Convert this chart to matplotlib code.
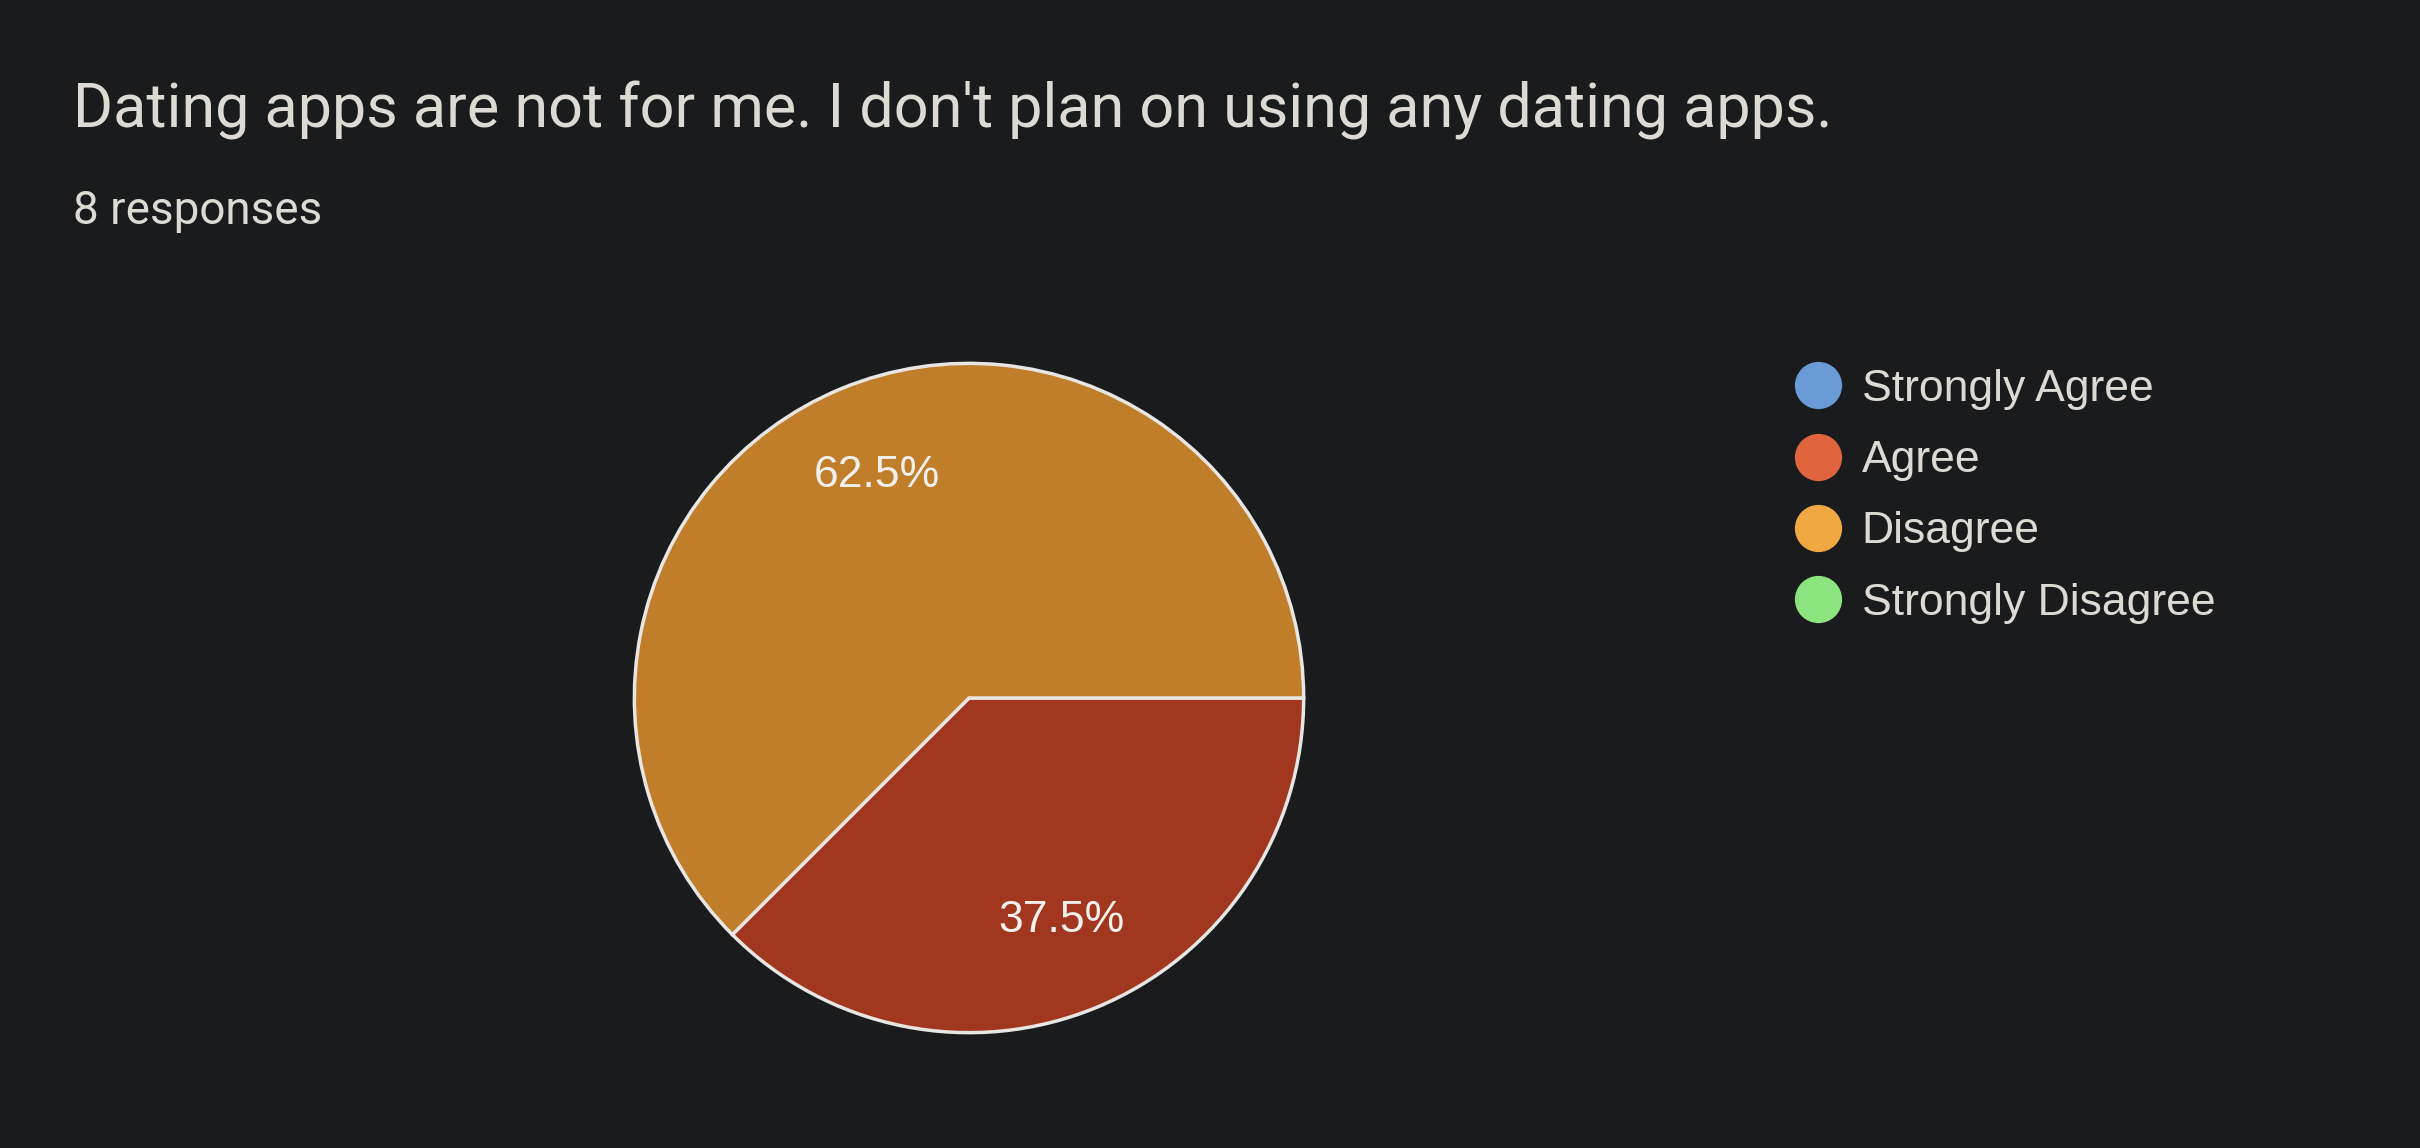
import numpy as np
import matplotlib
matplotlib.use("Agg")
import matplotlib.pyplot as plt
from matplotlib.lines import Line2D

# survey answers
categories = ["Strongly Agree", "Agree", "Disagree", "Strongly Disagree"]
counts = [0, 3, 5, 0]
legend_colors = ["#6a9bd6", "#e0653f", "#f0a843", "#8be47e"]
slice_colors = ["#4a6c96", "#a2371f", "#c07d2a", "#5f9e57"]

title = "Dating apps are not for me. I don't plan on using any dating apps."
subtitle = "8 responses"

bg = "#1a1b1d"
txt = "#dddad4"

fig = plt.figure(figsize=(24.2, 11.48), dpi=100, facecolor=bg)

fig.text(73 / 2420, 1 - 127 / 1148, title, fontsize=44, color=txt,
         family="Roboto", va="baseline", ha="left")
fig.text(73 / 2420, 1 - 224 / 1148, subtitle, fontsize=33, color=txt,
         family="Roboto", va="baseline", ha="left")

# pie: only non-zero slices are drawn
cx, cy, r = 969, 698, 338
ax = fig.add_axes([(cx - r) / 2420, (1148 - cy - r) / 1148, 2 * r / 2420, 2 * r / 1148])
ax.set_facecolor(bg)
vals = [v for v in counts if v > 0]
cols = [c for v, c in zip(counts, slice_colors) if v > 0]
wedges, texts, autotexts = ax.pie(vals, colors=cols, startangle=0, counterclock=False,
                                  autopct="%1.1f%%", pctdistance=0.72,
                                  wedgeprops=dict(edgecolor="#e8e6e3", linewidth=2.5),
                                  textprops=dict(color="#f2f0ec", fontsize=32,
                                                 family="Liberation Sans"))
ax.set_xlim(-1.01, 1.01)
ax.set_ylim(-1.01, 1.01)
ax.set_aspect("equal")
ax.axis("off")

handles = [Line2D([], [], marker="o", linestyle="none", markersize=33,
                  markerfacecolor=c, markeredgecolor=c) for c in legend_colors]
leg = fig.legend(handles, categories, loc="upper left",
                 bbox_to_anchor=(1796 / 2420, 1 - 369 / 1148),
                 frameon=False, labelcolor=txt,
                 prop=dict(family="Liberation Sans", size=32),
                 handletextpad=0.48, labelspacing=0.68, handlelength=1.0,
                 borderaxespad=0, borderpad=0)

fig.savefig("out.png", dpi=100, facecolor=bg)
